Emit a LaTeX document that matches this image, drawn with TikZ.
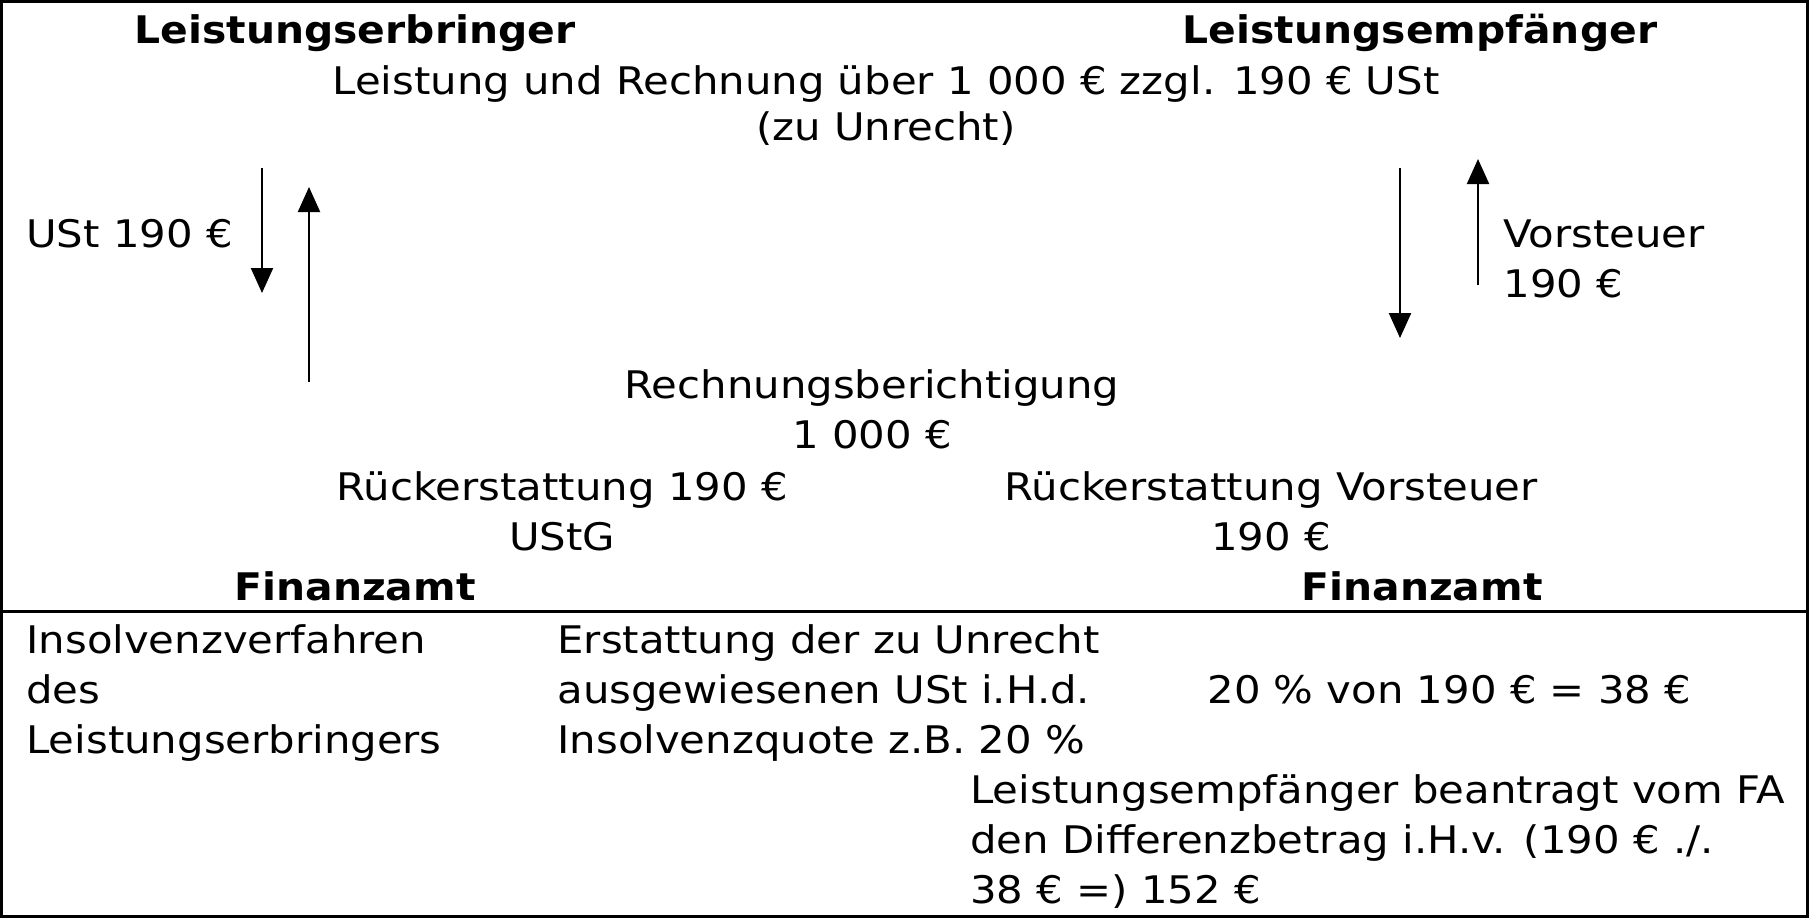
\documentclass[tikz,border=0pt]{standalone}
\usepackage{fontspec}
\setmainfont{DejaVu Sans}[FakeStretch=1.1, BoldFeatures={FakeStretch=1.075}]
\usetikzlibrary{arrows.meta}

\begin{document}
\begin{tikzpicture}
		[x=0.5pt, y=-0.5pt,
		txt/.style={inner sep=0pt, font=\fontsize{19}{25}\selectfont, anchor=base west, align=left},
		ctxt/.style={txt, anchor=base, align=center},
		head/.style={ctxt, font=\fontsize{19}{25}\selectfont\bfseries},
		arr/.style={-{Triangle[length=12.5pt, width=11pt]}, line width=1.1pt},
		frame/.style={line width=1.5pt}]
		\useasboundingbox (0,0) rectangle (1809,918);
		\draw[frame] (1.5,1.5) rectangle (1807.5,916.5);
		\coordinate (ml) at (1.5,611);
		\coordinate (mr) at (1807.5,611);
		\draw[frame] (ml) -- (mr);

		\node[head] (erbr) at (355,43) {Leistungserbringer};
		\node[head] (empf) at (1420,43) {Leistungsempfänger};
		\node[ctxt, font=\fontsize{19}{23}\selectfont] (rechn) at (886,140) {Leistung und Rechnung über 1 000 € zzgl. 190 € USt\\(zu Unrecht)};

		\node[txt] (ust) at (26,247) {USt 190 €};
		\node[txt] (vst) at (1503,297) {Vorsteuer\\190 €};

		\node[ctxt] (bericht) at (872,448) {Rechnungsberichtigung\\1 000 €};
		\node[ctxt] (rueckl) at (562,550) {Rückerstattung 190 €\\UStG};
		\node[ctxt] (rueckr) at (1271,550) {Rückerstattung Vorsteuer\\190 €};

		\node[head] (fal) at (355,600) {Finanzamt};
		\node[head] (far) at (1422,600) {Finanzamt};

		\coordinate (l1s) at (262,168);
		\coordinate (l1e) at (262,293);
		\coordinate (l2s) at (309,382);
		\coordinate (l2e) at (309,187);
		\coordinate (r1s) at (1400,168);
		\coordinate (r1e) at (1400,338);
		\coordinate (r2s) at (1478,285);
		\coordinate (r2e) at (1478,159);
		\draw[arr] (l1s) -- (l1e);
		\draw[arr] (l2s) -- (l2e);
		\draw[arr] (r1s) -- (r1e);
		\draw[arr] (r2s) -- (r2e);

		\node[txt] (insolv) at (26,753) {Insolvenzverfahren\\des\\Leistungserbringers};
		\node[txt] (erst) at (557,753) {Erstattung der zu Unrecht\\ausgewiesenen USt i.H.d.\\Insolvenzquote z.B. 20 \%};
		\node[txt] (quote) at (1207,703) {20 \% von 190 € = 38 €};
		\node[txt] (antrag) at (970,903) {Leistungsempfänger beantragt vom FA\\den Differenzbetrag i.H.v. (190 € ./.\\38 € =) 152 €};
	\end{tikzpicture}
\end{document}
